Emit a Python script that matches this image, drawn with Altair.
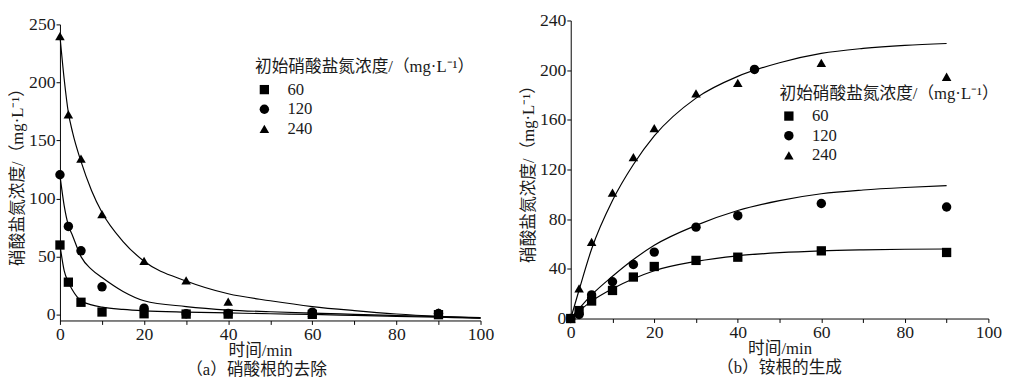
import altair as alt
import pandas as pd

SERIES = ["60", "120", "240"]
SHAPES = ["square", "circle", "triangle-up"]
SIZES = [90, 95, 150]

# ---------- (a) nitrate removal: measured points ----------
t_a = [0, 2, 5, 10, 20, 30, 40, 60, 90]
a_60 = [60, 28, 10.7, 2.3, 0.8, 0.5, 0.5, 0.3, 0.0]
a_120 = [120.5, 76, 55, 24, 5.6, 0.8, 1.0, 2.2, 1.0]
a_240 = [240, 172.5, 134.5, 86.7, 46.4, 29.6, 11.2, 1.5, 2.0]

# ---------- (a) fitted curves ----------
ta_fit = [0, 1, 2, 3, 5, 7.5, 10, 15, 20, 30, 40, 50, 60, 70, 80, 90, 100]
af_60 = [60, 38, 28, 21, 12, 8.5, 6.5, 4.5, 3.3, 2.2, 1.5, 0.8, 0.2, -0.6, -1.4, -2.2, -3]
af_120 = [120, 94, 77, 68, 50, 39, 32, 20, 12, 7, 4, 2.5, 1.3, 0.3, -0.7, -1.7, -2.6]
af_240 = [240, 203, 174, 157, 132, 107, 88, 63, 46, 29, 18, 12, 7, 3.5, 0.6, -1.5, -3]

# ---------- (b) ammonium formation: measured points ----------
t_b = [0, 2, 5, 10, 15, 20, 30, 40, 60, 90]
b_60 = [0, 6.4, 14.1, 22.6, 33.4, 41.9, 46.8, 49.4, 54.5, 53.2]
b_120 = [0, 3.3, 19, 29.6, 43.5, 53.5, 73.6, 82.8, 92.6, 89.8]
b_240 = [0, 24.2, 61.7, 101.3, 129.9, 153.3, 181.3, 189.8, 205.8, 194.7]
# stray circle marker drawn on the 240 curve
b_extra_t = [44]
b_extra_v = [200.6]

# ---------- (b) fitted curves ----------
tb_fit = [0, 2, 5, 10, 15, 20, 30, 40, 50, 60, 70, 80, 90]
bf_60 = [0, 6, 14, 24, 32, 38.5, 46, 50.5, 53, 54.5, 55.3, 55.8, 56]
bf_120 = [0, 8, 19, 34, 47.5, 59, 75, 87, 95, 100.5, 103.5, 105.5, 107]
bf_240 = [0, 23, 56, 95, 124, 147, 177.5, 195, 206, 213.5, 217.5, 220, 221.5]

FONT = "'Liberation Serif', 'Noto Sans CJK SC', serif"
NUMFONT = "'Liberation Serif', serif"
TXT = "#1a1a1a"
YTITLE = "硝酸盐氮浓度/（mg·L⁻¹）"
LEGTITLE = "初始硝酸盐氮浓度/（mg·L⁻¹）"


def long_df(ts, cols):
    rows = []
    for name, vals in cols:
        for t, v in zip(ts, vals):
            rows.append({"t": t, "v": v, "s": name})
    return pd.DataFrame(rows)


pts_a = long_df(t_a, [("60", a_60), ("120", a_120), ("240", a_240)])
fit_a = long_df(ta_fit, [("60", af_60), ("120", af_120), ("240", af_240)])
pts_b = pd.concat([
    long_df(t_b, [("60", b_60), ("120", b_120), ("240", b_240)]),
    long_df(b_extra_t, [("120", b_extra_v)]),
], ignore_index=True)
fit_b = long_df(tb_fit, [("60", bf_60), ("120", bf_120), ("240", bf_240)])


def make_legend(leg_x, leg_y):
    return alt.Legend(
        title=LEGTITLE, orient="none", legendX=leg_x, legendY=leg_y,
        titleFont=FONT, titleFontSize=17, titleFontWeight="normal",
        titleColor=TXT, titlePadding=5, titleLimit=400,
        labelFont=NUMFONT, labelFontSize=17, labelColor=TXT,
        symbolFillColor="black", symbolStrokeColor="black",
        symbolOffset=1, labelOffset=15, rowPadding=2,
        padding=0,
    )


def panel(pts, fit, y_dom, y_rng, w, h, y_vals, y_lab, leg_x, leg_y, sub, sub_dx, xt_x):
    x_scale = alt.Scale(domain=[0, 100], nice=False, zero=False)
    y_scale = alt.Scale(domain=y_dom, range=y_rng, nice=False, zero=False)
    x_axis = alt.Axis(
        values=list(range(0, 101, 10)),
        labelExpr="datum.value % 20 == 0 ? datum.label : ''",
        title="时间/min", titleFont=FONT, titleFontSize=17, titleFontWeight="normal",
        titleColor=TXT, titlePadding=0, titleX=xt_x,
        labelFont=NUMFONT, labelFontSize=18, labelColor=TXT, labelPadding=1,
        tickSize=4, tickColor="black", domainColor="black", grid=False,
        labelOverlap=False, labelFlush=False,
    )
    y_axis = alt.Axis(
        values=y_vals,
        labelExpr=f"datum.value % {y_lab} == 0 ? datum.label : ''",
        title=YTITLE, titleFont=FONT, titleFontSize=17, titleFontWeight="normal",
        titleColor=TXT, titlePadding=2,
        labelFont=NUMFONT, labelFontSize=18, labelColor=TXT, labelPadding=1,
        tickSize=4, tickColor="black", domainColor="black", grid=False,
        labelOverlap=False, labelFlush=False,
    )
    lines = alt.Chart(fit).mark_line(
        color="black", strokeWidth=1.2, interpolate="monotone"
    ).encode(
        x=alt.X("t:Q", scale=x_scale, axis=x_axis),
        y=alt.Y("v:Q", scale=y_scale, axis=y_axis),
        detail="s:N",
    )
    leg = make_legend(leg_x, leg_y)
    points = alt.Chart(pts).mark_point(
        filled=True, opacity=1, color="black"
    ).encode(
        x=alt.X("t:Q", scale=x_scale),
        y=alt.Y("v:Q", scale=y_scale),
        size=alt.Size("s:N", sort=SERIES,
                      scale=alt.Scale(domain=SERIES, range=SIZES), legend=leg),
        shape=alt.Shape("s:N", sort=SERIES,
                        scale=alt.Scale(domain=SERIES, range=SHAPES), legend=leg),
    )
    return alt.layer(lines, points).properties(
        width=w, height=h,
        title=alt.TitleParams(
            sub, orient="bottom", font=FONT, fontSize=17, fontWeight="normal",
            color=TXT, offset=4, dx=sub_dx,
        ),
    )


left = panel(pts_a, fit_a, [-5, 250], [306, 4], 429, 306,
             list(range(0, 251, 25)), 50, 199, 40, "（a）硝酸根的去除", -14, 204)
right = panel(pts_b, fit_b, [0, 240], [304, 0], 426, 304,
              list(range(0, 241, 20)), 40, 213, 67, "（b）铵根的生成", 0, 213)

chart = alt.hconcat(left, right, spacing=26).resolve_legend(
    shape="independent", size="independent"
).resolve_scale(
    shape="independent", size="independent"
).properties(
    padding={"left": 1, "top": 0, "right": 5, "bottom": 0},
    background="white",
).configure_view(stroke=None)

chart.save("out.html", embed_options={"renderer": "svg", "actions": False})
